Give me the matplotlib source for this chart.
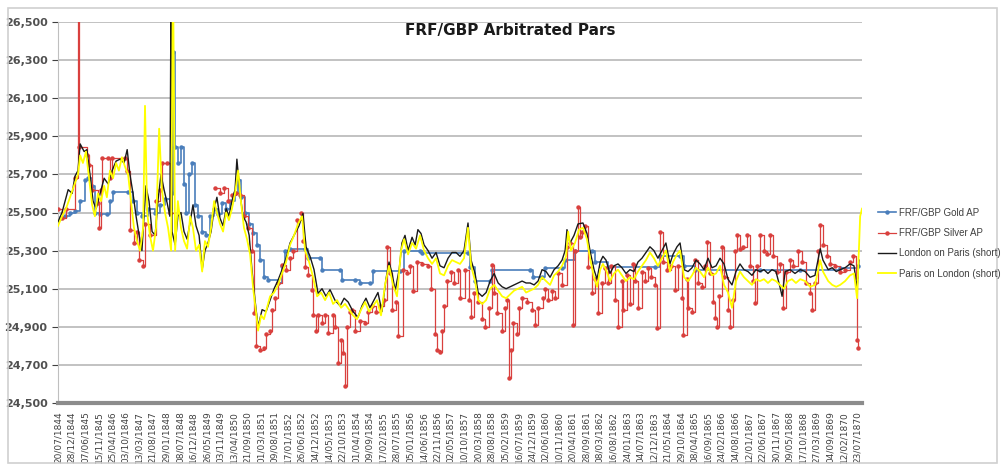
import numpy as np
import pandas as pd
import matplotlib
matplotlib.use('Agg')
import matplotlib.pyplot as plt
from matplotlib.ticker import FuncFormatter
from matplotlib.patches import Rectangle

# x tick labels (every 161 days)
tick_labels = ['20/07/1844', '28/12/1844', '07/06/1845', '15/11/1845', '25/04/1846', '03/10/1846',
               '13/03/1847', '21/08/1847', '29/01/1848', '08/07/1848', '16/12/1848', '26/05/1849',
               '03/11/1849', '13/04/1850', '21/09/1850', '01/03/1851', '09/08/1851', '17/01/1852',
               '26/06/1852', '04/12/1852', '14/05/1853', '22/10/1853', '01/04/1854', '09/09/1854',
               '17/02/1855', '28/07/1855', '05/01/1856', '14/06/1856', '22/11/1856', '02/05/1857',
               '10/10/1857', '20/03/1858', '28/08/1858', '05/02/1859', '16/07/1859', '24/12/1859',
               '02/06/1860', '10/11/1860', '20/04/1861', '28/09/1861', '08/03/1862', '16/08/1862',
               '24/01/1863', '04/07/1863', '12/12/1863', '21/05/1864', '29/10/1864', '08/04/1865',
               '16/09/1865', '24/02/1866', '04/08/1866', '12/01/1867', '22/06/1867', '30/11/1867',
               '09/05/1868', '17/10/1868', '27/03/1869', '04/09/1869', '12/02/1870', '23/07/1870']

# FRF/GBP Gold AP (decimal years, francs per pound)
gold_yr = [1844.62, 1844.78, 1844.94, 1845.10, 1845.27, 1845.43, 1845.53, 1845.66, 1845.75, 1845.92,
           1846.14, 1846.24, 1846.34, 1846.83, 1846.99, 1847.12, 1847.28, 1847.48, 1847.71, 1847.87,
           1848.03, 1848.19, 1848.26, 1848.29, 1848.36, 1848.45, 1848.55, 1848.65, 1848.72, 1848.81,
           1848.91, 1849.01, 1849.11, 1849.24, 1849.37, 1849.50, 1849.63, 1849.76, 1849.89, 1850.02,
           1850.15, 1850.31, 1850.41, 1850.50, 1850.63, 1850.77, 1850.90, 1851.03, 1851.12, 1851.25,
           1851.38, 1851.71, 1851.84, 1851.94, 1852.10, 1852.59, 1852.69, 1853.08, 1853.14, 1853.73,
           1853.79, 1854.21, 1854.38, 1854.70, 1854.80, 1855.68, 1855.81, 1856.33, 1856.39, 1857.89,
           1857.96, 1858.12, 1858.61, 1858.67, 1859.91, 1860.01, 1860.30, 1860.40, 1860.95, 1861.05,
           1861.37, 1861.93, 1862.02, 1862.45, 1863.98, 1864.14, 1864.79, 1864.92, 1865.28, 1867.39,
           1868.70, 1870.00, 1870.58]
gold_val = [25470, 25480, 25500, 25510, 25560, 25670, 25680, 25640, 25500, 25490,
            25490, 25560, 25610, 25610, 25560, 25500, 25480, 25520, 25500, 25540,
            25570, 25520, 25600, 26340, 25845, 25760, 25845, 25650, 25500, 25700,
            25760, 25540, 25480, 25400, 25380, 25480, 25520, 25490, 25550, 25520,
            25560, 25600, 25670, 25580, 25500, 25440, 25390, 25330, 25250, 25160,
            25145, 25130, 25220, 25300, 25310, 25310, 25260, 25260, 25200, 25200,
            25145, 25145, 25130, 25130, 25195, 25195, 25300, 25300, 25285, 25285,
            25215, 25140, 25140, 25200, 25200, 25160, 25160, 25210, 25210, 25250,
            25300, 25300, 25240, 25215, 25215, 25270, 25270, 25220, 25200, 25200,
            25200, 25210, 25220]

# FRF/GBP Silver AP
silver_yr = [1844.55, 1844.68, 1844.81, 1845.10, 1845.20, 1845.23, 1845.49, 1845.56, 1845.66, 1845.85,
             1845.88, 1845.95, 1845.98, 1846.18, 1846.24, 1846.31, 1846.73, 1846.80, 1846.89, 1847.02,
             1847.12, 1847.19, 1847.32, 1847.38, 1847.54, 1847.74, 1847.87, 1847.93, 1848.10, 1848.19,
             1848.30,
             1849.66, 1849.82, 1849.95, 1850.08, 1850.21, 1850.34, 1850.47, 1850.60, 1850.73, 1850.86,
             1850.93, 1850.99, 1851.12, 1851.25, 1851.32, 1851.45, 1851.51, 1851.61, 1851.71, 1851.84,
             1851.97, 1852.10, 1852.20, 1852.33, 1852.46, 1852.52, 1852.59, 1852.69, 1852.82, 1852.85,
             1852.95, 1853.01, 1853.14, 1853.24, 1853.34, 1853.50, 1853.56, 1853.66, 1853.76, 1853.82,
             1853.89, 1853.95, 1854.05, 1854.12, 1854.21, 1854.38, 1854.54, 1854.64, 1854.77, 1854.90,
             1855.03, 1855.16, 1855.26, 1855.35, 1855.42, 1855.55, 1855.61, 1855.78, 1855.91, 1856.00,
             1856.10, 1856.23, 1856.39, 1856.59, 1856.69, 1856.82, 1856.88, 1856.98, 1857.05, 1857.11,
             1857.21, 1857.34, 1857.44, 1857.57, 1857.63, 1857.79, 1857.92, 1857.99, 1858.09, 1858.22,
             1858.35, 1858.45, 1858.58, 1858.67, 1858.74, 1858.84, 1859.00, 1859.10, 1859.16, 1859.23,
             1859.29, 1859.36, 1859.49, 1859.55, 1859.65, 1859.81, 1859.97, 1860.07, 1860.17, 1860.33,
             1860.40, 1860.49, 1860.62, 1860.72, 1860.82, 1860.95, 1861.11, 1861.21, 1861.31, 1861.37,
             1861.47, 1861.53, 1861.60, 1861.70, 1861.80, 1861.93, 1862.02, 1862.12, 1862.25, 1862.35,
             1862.45, 1862.54, 1862.67, 1862.77, 1862.90, 1862.93, 1863.07, 1863.16, 1863.26, 1863.33,
             1863.42, 1863.55, 1863.65, 1863.75, 1863.85, 1863.98, 1864.04, 1864.14, 1864.24, 1864.37,
             1864.50, 1864.63, 1864.72, 1864.85, 1864.89, 1865.02, 1865.05, 1865.18, 1865.28, 1865.38,
             1865.51, 1865.61, 1865.67, 1865.77, 1865.86, 1865.93, 1865.99, 1866.06, 1866.16, 1866.22,
             1866.35, 1866.42, 1866.51, 1866.58, 1866.64, 1866.74, 1866.84, 1866.97, 1867.07, 1867.16,
             1867.23, 1867.29, 1867.39, 1867.52, 1867.62, 1867.72, 1867.82, 1867.95, 1868.04, 1868.14,
             1868.24, 1868.37, 1868.47, 1868.63, 1868.76, 1868.89, 1869.02, 1869.09, 1869.18, 1869.28,
             1869.35, 1869.44, 1869.57, 1869.67, 1869.83, 1870.00, 1870.16, 1870.32, 1870.42, 1870.51,
             1870.55, 1870.58]
silver_val = [25520, 25470, 25520, 25680, 26700, 25845, 25800, 25750, 25620, 25550,
              25420, 25620, 25785, 25785, 25680, 25785, 25785, 25720, 25410, 25340,
              25400, 25250, 25220, 25440, 25380, 25560, 25620, 25760, 25760, 25500,
              np.nan,
              25630, 25600, 25630, 25560, 25590, 25600, 25590, 25480, 25420, 25300,
              24970, 24800, 24780, 24790, 24860, 24880, 24990, 25050, 25130, 25225,
              25200, 25260, 25300, 25460, 25500, 25350, 25215, 25170, 25095, 24960,
              24880, 24960, 24920, 24960, 24870, 24960, 24900, 24710, 24830, 24760,
              24590, 24900, 24980, 24990, 24880, 24930, 24920, 24980, 25010, 24980,
              25010, 25040, 25320, 25180, 24990, 25030, 24850, 25200, 25180, 25220,
              25090, 25240, 25230, 25220, 25100, 24860, 24780, 24770, 24880, 25010,
              25140, 25190, 25130, 25200, 25050, 25200, 25040, 24950, 25080, 25030,
              24940, 24900, 25000, 25225, 25080, 24970, 24880, 25000, 25040, 24630,
              24780, 24920, 24860, 25000, 25050, 25030, 24990, 24910, 25000, 25050,
              25100, 25040, 25090, 25050, 25180, 25120, 25320, 25340, 24910, 25300,
              25530, 25370, 25400, 25430, 25215, 25075, 25150, 24970, 25130, 25210,
              25130, 25220, 25040, 24900, 25140, 24990, 25170, 25020, 25230, 25140,
              25000, 25190, 25140, 25210, 25160, 25120, 24895, 25400, 25240, 25200,
              25220, 25095, 25220, 25050, 24855, 25150, 25000, 24980, 25250, 25130,
              25110, 25220, 25345, 25180, 25030, 24945, 24900, 25060, 25320, 25160,
              24990, 24900, 25040, 25300, 25380, 25310, 25320, 25380, 25220, 25140,
              25025, 25220, 25380, 25300, 25280, 25380, 25270, 25190, 25230, 25000,
              25190, 25250, 25220, 25300, 25240, 25130, 25080, 24990, 25130, 25300,
              25435, 25330, 25270, 25230, 25220, 25190, 25200, 25240, 25270, 25160,
              24830, 24790]

# London on Paris (short)
london_yr = [1844.55, 1844.68, 1844.78, 1844.88, 1845.01, 1845.10, 1845.20, 1845.27, 1845.40, 1845.49,
             1845.59, 1845.69, 1845.79, 1845.92, 1846.05, 1846.18, 1846.31, 1846.44, 1846.57, 1846.70,
             1846.80, 1846.89, 1846.99, 1847.09, 1847.19, 1847.28, 1847.35, 1847.41, 1847.51, 1847.61,
             1847.71, 1847.80, 1847.90, 1848.00, 1848.10, 1848.19, 1848.23, 1848.26, 1848.36, 1848.45,
             1848.55, 1848.65, 1848.75, 1848.85, 1848.94, 1849.04, 1849.14, 1849.24, 1849.33, 1849.43,
             1849.53, 1849.63, 1849.72, 1849.82, 1849.92, 1850.02, 1850.11, 1850.21, 1850.31, 1850.37,
             1850.47, 1850.57, 1850.67, 1850.77, 1850.86, 1850.96, 1851.06, 1851.19, 1851.32, 1851.45,
             1851.58, 1851.71, 1851.84, 1851.97, 1852.10, 1852.26, 1852.39, 1852.52, 1852.62, 1852.75,
             1852.88, 1853.01, 1853.14, 1853.27, 1853.40, 1853.56, 1853.73, 1853.86, 1853.99, 1854.15,
             1854.31, 1854.44, 1854.57, 1854.70, 1854.83, 1854.96, 1855.09, 1855.22, 1855.32, 1855.42,
             1855.52, 1855.65, 1855.74, 1855.84, 1855.94, 1856.07, 1856.17, 1856.26, 1856.36, 1856.46,
             1856.59, 1856.72, 1856.85, 1856.98, 1857.11, 1857.24, 1857.37, 1857.50, 1857.63, 1857.76,
             1857.89, 1857.99, 1858.12, 1858.22, 1858.35, 1858.48, 1858.61, 1858.74, 1858.87, 1859.00,
             1859.13, 1859.26, 1859.39, 1859.52, 1859.65, 1859.78, 1859.91, 1860.04, 1860.17, 1860.30,
             1860.43, 1860.56, 1860.69, 1860.82, 1860.95, 1861.05, 1861.11, 1861.21, 1861.34, 1861.47,
             1861.63, 1861.76, 1861.86, 1861.99, 1862.09, 1862.19, 1862.28, 1862.38, 1862.51, 1862.64,
             1862.77, 1862.90, 1863.03, 1863.16, 1863.29, 1863.42, 1863.55, 1863.68, 1863.81, 1863.94,
             1864.07, 1864.20, 1864.33, 1864.46, 1864.56, 1864.69, 1864.79, 1864.92, 1865.05, 1865.18,
             1865.31, 1865.44, 1865.57, 1865.70, 1865.83, 1865.96, 1866.09, 1866.22, 1866.35, 1866.48,
             1866.61, 1866.74, 1866.87, 1867.00, 1867.13, 1867.26, 1867.39, 1867.52, 1867.65, 1867.78,
             1867.91, 1868.04, 1868.11, 1868.21, 1868.37, 1868.53, 1868.70, 1868.86, 1869.02, 1869.18,
             1869.35, 1869.44, 1869.61, 1869.74, 1869.87, 1870.00, 1870.16, 1870.32, 1870.45, 1870.55,
             1870.61]
london_val = [25450, 25500, 25560, 25620, 25600, 25690, 25720, 25860, 25820, 25830,
              25700, 25560, 25520, 25600, 25680, 25650, 25720, 25770, 25780, 25760,
              25830, 25700, 25600, 25480, 25380, 25300, 25480, 25640, 25560, 25400,
              25380, 25560, 25700, 25620, 25550, 25480, 26800, 25400, 25330, 25480,
              25500, 25400, 25360, 25450, 25540, 25430, 25380, 25200, 25300, 25340,
              25400, 25520, 25580, 25470, 25430, 25520, 25480, 25560, 25620, 25780,
              25600, 25480, 25450, 25380, 25200, 25040, 24900, 24990, 24980, 25040,
              25100, 25145, 25200, 25260, 25340, 25390, 25430, 25495, 25320, 25270,
              25200, 25075, 25100, 25060, 25095, 25040, 25010, 25050, 25030, 24980,
              24950, 25010, 25050, 25000, 25040, 25080, 24980, 25150, 25240, 25180,
              25090, 25200, 25340, 25380, 25300, 25370, 25330, 25410, 25390, 25330,
              25300, 25260, 25290, 25220, 25210, 25260, 25290, 25290, 25270, 25300,
              25445, 25250, 25180, 25080, 25060, 25080, 25140, 25180, 25130, 25110,
              25100, 25110, 25120, 25130, 25140, 25130, 25130, 25120, 25140, 25200,
              25190, 25160, 25200, 25220, 25250, 25300, 25410, 25340, 25380, 25440,
              25445, 25390, 25300, 25200, 25150, 25240, 25270, 25250, 25180, 25220,
              25230, 25210, 25180, 25200, 25190, 25240, 25260, 25290, 25320, 25300,
              25260, 25300, 25340, 25230, 25280, 25320, 25340, 25200, 25190, 25210,
              25250, 25230, 25200, 25260, 25210, 25220, 25260, 25230, 25150, 25120,
              25190, 25230, 25200, 25190, 25170, 25200, 25190, 25200, 25180, 25200,
              25190, 25110, 25060, 25190, 25200, 25180, 25200, 25190, 25160, 25170,
              25310, 25250, 25200, 25210, 25190, 25200, 25210, 25230, 25220, 25100,
              25250]

# Paris on London (short)
paris_yr = [1844.55, 1844.68, 1844.81, 1844.94, 1845.07, 1845.20, 1845.27, 1845.36, 1845.46, 1845.56,
            1845.66, 1845.75, 1845.85, 1845.95, 1846.05, 1846.14, 1846.24, 1846.34, 1846.44, 1846.53,
            1846.63, 1846.73, 1846.83, 1846.93, 1847.02, 1847.12, 1847.22, 1847.32, 1847.38, 1847.45,
            1847.54, 1847.64, 1847.74, 1847.84, 1847.93, 1848.03, 1848.13, 1848.23, 1848.29, 1848.36,
            1848.45, 1848.55, 1848.65, 1848.75, 1848.85, 1848.94, 1849.04, 1849.14, 1849.24, 1849.33,
            1849.43, 1849.53, 1849.63, 1849.72, 1849.82, 1849.92, 1850.02, 1850.11, 1850.21, 1850.31,
            1850.41, 1850.50, 1850.60, 1850.70, 1850.80, 1850.90, 1850.99, 1851.06, 1851.16, 1851.25,
            1851.35, 1851.45, 1851.58, 1851.71, 1851.84, 1851.97, 1852.10, 1852.23, 1852.36, 1852.49,
            1852.59, 1852.72, 1852.85, 1852.98, 1853.11, 1853.24, 1853.37, 1853.50, 1853.63, 1853.76,
            1853.89, 1854.02, 1854.15, 1854.28, 1854.41, 1854.54, 1854.67, 1854.80, 1854.93, 1855.06,
            1855.19, 1855.32, 1855.45, 1855.58, 1855.71, 1855.81, 1855.94, 1856.07, 1856.20, 1856.33,
            1856.46, 1856.59, 1856.72, 1856.85, 1856.98, 1857.11, 1857.24, 1857.37, 1857.50, 1857.63,
            1857.76, 1857.89, 1857.99, 1858.12, 1858.22, 1858.35, 1858.48, 1858.61, 1858.74, 1858.87,
            1859.00, 1859.13, 1859.26, 1859.39, 1859.52, 1859.65, 1859.78, 1859.91, 1860.04, 1860.17,
            1860.30, 1860.43, 1860.56, 1860.69, 1860.82, 1860.95, 1861.08, 1861.15, 1861.24, 1861.37,
            1861.50, 1861.63, 1861.76, 1861.86, 1861.99, 1862.09, 1862.19, 1862.28, 1862.38, 1862.51,
            1862.64, 1862.77, 1862.90, 1863.03, 1863.16, 1863.29, 1863.42, 1863.55, 1863.68, 1863.81,
            1863.94, 1864.07, 1864.20, 1864.33, 1864.46, 1864.56, 1864.69, 1864.79, 1864.92, 1865.05,
            1865.18, 1865.31, 1865.44, 1865.57, 1865.70, 1865.83, 1865.96, 1866.09, 1866.22, 1866.35,
            1866.48, 1866.61, 1866.74, 1866.87, 1867.00, 1867.13, 1867.26, 1867.39, 1867.52, 1867.65,
            1867.78, 1867.91, 1868.04, 1868.17, 1868.30, 1868.43, 1868.56, 1868.70, 1868.86, 1869.02,
            1869.18, 1869.35, 1869.44, 1869.61, 1869.74, 1869.87, 1870.00, 1870.16, 1870.32, 1870.45,
            1870.55, 1870.65, 1870.71]
paris_val = [25430, 25480, 25520, 25580, 25640, 25700, 25800, 25760, 25820, 25680,
             25540, 25480, 25600, 25560, 25640, 25580, 25720, 25680, 25760, 25720,
             25790, 25740, 25700, 25550, 25420, 25350, 25300, 25420, 26060, 25500,
             25380, 25300, 25420, 25940, 25620, 25500, 25420, 25300, 26800, 25300,
             25560, 25420, 25350, 25310, 25480, 25420, 25300, 25330, 25190, 25350,
             25320, 25420, 25560, 25500, 25440, 25400, 25500, 25460, 25520, 25600,
             25720, 25560, 25420, 25360, 25280, 25100, 24980, 24880, 24960, 24940,
             25000, 25060, 25080, 25120, 25180, 25240, 25330, 25380, 25440, 25480,
             25300, 25240, 25160, 25060, 25080, 25040, 25080, 25020, 25040, 25000,
             25020, 24990, 24960, 24940, 24990, 25030, 24980, 25010, 25040, 24960,
             25120, 25220, 25120, 25060, 25300, 25360, 25280, 25340, 25310, 25380,
             25300, 25260, 25230, 25260, 25180, 25170, 25220, 25250, 25240, 25230,
             25260, 25420, 25220, 25140, 25040, 25020, 25040, 25100, 25120, 25090,
             25060, 25050, 25070, 25090, 25100, 25110, 25080, 25090, 25100, 25120,
             25160, 25140, 25120, 25170, 25190, 25220, 25270, 25400, 25300, 25340,
             25410, 25420, 25360, 25260, 25160, 25110, 25200, 25230, 25200, 25140,
             25180, 25200, 25170, 25140, 25160, 25150, 25190, 25220, 25250, 25290,
             25260, 25220, 25260, 25300, 25190, 25240, 25280, 25300, 25160, 25140,
             25170, 25210, 25190, 25160, 25210, 25170, 25180, 25220, 25120, 25080,
             25000, 25140, 25190, 25160, 25140, 25120, 25150, 25140, 25150, 25130,
             25150, 25140, 25120, 25100, 25140, 25150, 25130, 25150, 25140, 25110,
             25120, 25250, 25190, 25140, 25120, 25110, 25120, 25140, 25170, 25180,
             25050, 25480, 25520]

yticks = [24500, 24700, 24900, 25100, 25300, 25500, 25700, 25900, 26100, 26300, 26500]

# tick dates -> decimal years
tick_dates = pd.to_datetime(tick_labels, format='%d/%m/%Y')
tick_pos = tick_dates.year + (tick_dates.dayofyear - 1) / np.where(tick_dates.is_leap_year, 366, 365)

fig = plt.figure(figsize=(10.05, 4.71), dpi=100)
ax = fig.add_axes([58 / 1005, 1 - 403 / 471, 804 / 1005, 381 / 471])

ax.plot(gold_yr, gold_val, color='#4a7ebb', lw=1.2, marker='o', ms=2.2, drawstyle='steps-post',
        label='FRF/GBP Gold AP', zorder=2)
ax.plot(silver_yr, silver_val, color='#d9403e', lw=0.9, marker='o', ms=2.2, drawstyle='steps-post',
        label='FRF/GBP Silver AP', zorder=3)
ax.plot(london_yr, london_val, color='#1a1a1a', lw=1.0, label='London on Paris (short)', zorder=4)
ax.plot(paris_yr, paris_val, color='#ffff00', lw=1.3, label='Paris on London (short)', zorder=5)

ax.set_xlim(tick_pos[0], 1870.71)
ax.set_ylim(24500, 26500)
ax.set_yticks(yticks)
ax.yaxis.set_major_formatter(FuncFormatter(lambda v, p: f'{v:,.0f}'))
ax.set_xticks(tick_pos)
ax.set_xticklabels(tick_labels, rotation=90, fontsize=6.5, color='#404040')
ax.tick_params(axis='y', labelsize=8, colors='#404040', length=4)
ax.tick_params(axis='x', length=0, pad=6)
for lbl in ax.get_yticklabels():
    lbl.set_fontweight('bold')
    lbl.set_color('#505050')

ax.grid(axis='y', color='#bdbdbd', lw=1.3)
ax.set_axisbelow(True)
ax.spines['top'].set_visible(False)
ax.spines['right'].set_visible(False)
ax.spines['left'].set_color('#bfbfbf')
ax.spines['bottom'].set_color('#8c8c8c')
ax.spines['bottom'].set_linewidth(3)

fig.text(510 / 1005, 1 - 30 / 471, 'FRF/GBP Arbitrated Pars', ha='center', va='center',
         fontsize=11, fontweight='bold', color='#1a1a1a')

fig.legend(loc='upper left', bbox_to_anchor=(874 / 1005, 1 - 204 / 471), frameon=False,
           prop={'family': 'Liberation Sans', 'size': 7}, labelcolor='#404040', numpoints=1,
           handlelength=1.9, handletextpad=0.3, labelspacing=1.05, borderaxespad=0)

fig.patches.append(Rectangle((8 / 1005, 8 / 471), 989 / 1005, 455 / 471, transform=fig.transFigure,
                             fill=False, edgecolor='#d0d0d0', lw=1.2))

fig.savefig('out.png', dpi=100)
